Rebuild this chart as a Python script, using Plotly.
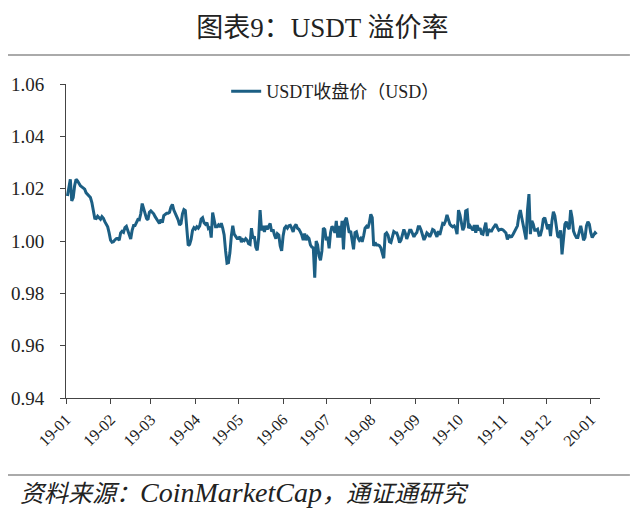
import pandas as pd
import plotly.graph_objects as go

# USDT daily close (USD), starting 2019-01-02
seg1 = [1.0172, 1.0204, 1.0236, 1.0153, 1.0166, 1.0211, 1.0236, 1.0230, 1.0217, 1.0211,
        1.0207, 1.0204, 1.0198, 1.0184, 1.0179, 1.0172, 1.0166, 1.0147, 1.0109, 1.0087,
        1.0086, 1.0095, 1.0089, 1.0083, 1.0093, 1.0087, 1.0074, 1.0061, 1.0054, 1.0031,
        1.0003, 0.9995, 0.9997, 1.0004, 1.0009, 1.0010, 1.0003, 1.0031, 1.0037, 1.0033,
        1.0051, 1.0056, 1.0041, 1.0028, 1.0008, 1.0041, 1.0059, 1.0059, 1.0069, 1.0082,
        1.0081, 1.0104, 1.0143, 1.0121, 1.0107, 1.0086, 1.0081, 1.0110, 1.0115, 1.0109,
        1.0104, 1.0093, 1.0083, 1.0072, 1.0067, 1.0082, 1.0070, 1.0097, 1.0102, 1.0106,
        1.0106, 1.0110, 1.0130, 1.0140, 1.0118, 1.0105, 1.0098, 1.0081, 1.0061, 1.0067,
        1.0104, 1.0120, 1.0116, 1.0032, 0.9983, 0.9987, 1.0006, 1.0040, 1.0051, 1.0046,
        1.0054, 1.0049, 1.0058, 1.0084, 1.0089]
seg2 = [1.0070, 1.0064, 1.0070, 1.0049, 1.0054, 1.0013, 1.0109, 1.0077, 1.0054, 1.0054,
        1.0061, 1.0054, 1.0068, 1.0049, 1.0023, 0.9962, 0.9915, 0.9917, 0.9955, 1.0019,
        1.0058, 1.0026, 1.0016, 1.0010, 1.0010, 1.0016, 0.9996, 1.0005, 1.0001, 1.0009,
        1.0003, 0.9990, 0.9987, 1.0049, 1.0009, 1.0018, 0.9977, 0.9964, 1.0013, 1.0118,
        1.0041, 1.0058, 1.0035, 1.0058, 1.0045, 1.0058, 1.0067, 1.0036, 1.0044, 1.0023,
        1.0009, 1.0028, 1.0023, 0.9981, 0.9962, 1.0019, 1.0049, 1.0056, 1.0049, 1.0058,
        1.0060, 1.0049, 1.0035, 1.0056, 1.0063, 1.0049, 1.0045, 1.0035, 1.0023, 1.0003,
        1.0028, 1.0003, 1.0016, 1.0010, 0.9985, 0.9977, 0.9974, 0.9860, 1.0000, 0.9985,
        0.9943, 0.9926, 0.9962, 1.0049, 1.0044, 1.0003, 1.0016, 0.9972, 1.0032, 1.0056,
        1.0049, 1.0031, 1.0077]
seg3 = [1.0013, 1.0058, 1.0013, 1.0077, 0.9968, 1.0077, 1.0089, 1.0051, 1.0032, 1.0038,
        0.9994, 0.9968, 1.0032, 1.0035, 1.0013, 1.0003, 1.0010, 0.9997, 1.0019, 1.0049,
        1.0056, 1.0049, 1.0070, 1.0102, 1.0089, 0.9981, 0.9994, 0.9985, 0.9985, 0.9982,
        0.9974, 0.9949, 0.9934, 1.0026, 1.0031, 1.0022, 0.9997, 0.9994, 1.0013, 1.0036,
        1.0032, 1.0031, 1.0016, 0.9994, 1.0003, 1.0023, 1.0044, 1.0030, 1.0008, 1.0023,
        1.0041, 1.0041, 1.0028, 1.0016, 1.0026, 1.0032, 1.0054, 1.0054, 1.0041, 1.0018,
        1.0004, 1.0016, 1.0031, 1.0026, 1.0016, 1.0028, 1.0044, 1.0041, 1.0028, 1.0016,
        1.0038, 1.0023, 1.0045, 1.0067, 1.0064, 1.0077, 1.0100, 1.0077, 1.0064, 1.0058,
        1.0054, 1.0058, 1.0049, 1.0026, 1.0118, 1.0100, 1.0064, 1.0041, 1.0054, 1.0115,
        1.0118, 1.0049, 1.0058]
seg4 = [1.0051, 1.0041, 1.0061, 1.0032, 1.0061, 1.0041, 1.0049, 1.0028, 1.0026, 1.0049,
        1.0070, 1.0019, 1.0045, 1.0038, 1.0038, 1.0049, 1.0058, 1.0064, 1.0051, 1.0041,
        1.0044, 1.0045, 1.0042, 1.0037, 1.0031, 1.0006, 1.0023, 1.0016, 1.0017, 1.0026,
        1.0038, 1.0051, 1.0058, 1.0096, 1.0118, 1.0089, 1.0058, 1.0026, 1.0006, 1.0118,
        1.0179, 1.0026, 1.0077, 1.0064, 1.0041, 1.0041, 1.0045, 1.0022, 1.0023, 1.0045,
        1.0083, 1.0089, 1.0067, 1.0045, 1.0064, 1.0019, 1.0077, 1.0112, 1.0096, 1.0051,
        1.0019, 1.0013, 1.0041, 0.9949, 1.0013, 1.0064, 1.0074, 1.0054, 1.0045, 1.0118,
        1.0089, 1.0038, 1.0023, 1.0013, 1.0013, 1.0036, 1.0058, 1.0032, 1.0003, 1.0013,
        1.0058, 1.0074, 1.0064, 1.0032, 1.0013, 1.0023, 1.0032, 1.0026]

values = seg1 + seg2 + seg3 + seg4
dates = pd.date_range("2019-01-02", periods=len(values), freq="D")

tick_dates = pd.date_range("2019-01-01", "2020-01-01", freq="MS")
tick_labels = ["19-01", "19-02", "19-03", "19-04", "19-05", "19-06", "19-07",
               "19-08", "19-09", "19-10", "19-11", "19-12", "20-01"]

FONT = "Liberation Serif, Times New Roman, Noto Sans CJK SC, serif"
LINE_COLOR = "#1c5f84"

fig = go.Figure()
fig.add_trace(go.Scatter(
    x=dates, y=values, mode="lines", name="USDT收盘价（USD）",
    line=dict(color=LINE_COLOR, width=3),
))

# the page body has an 8px margin, so the figure is laid out 8px up/left
fig.update_layout(
    width=640, height=518,
    margin=dict(l=58, r=48, t=76, b=128, autoexpand=False),
    paper_bgcolor="white", plot_bgcolor="white",
    font=dict(family=FONT, size=15, color="#222"),
    title=dict(text="图表9：USDT 溢价率", x=0.48, xref="paper", xanchor="center",
               y=1 - 20 / 518, yref="container", yanchor="middle",
               font=dict(family=FONT, size=27, color="#222")),
    showlegend=True,
    legend=dict(x=0.505, xanchor="center", y=1.035, yanchor="top",
                bgcolor="rgba(0,0,0,0)", font=dict(family=FONT, size=18, color="#222")),
    xaxis=dict(
        type="date", range=["2019-01-01", "2020-01-07 10:00"],
        tickvals=list(tick_dates), ticktext=tick_labels, tickangle=-45,
        showgrid=False, showline=True, linecolor="#444", linewidth=1,
        ticks="outside", ticklen=5, tickcolor="#444", automargin=False,
        tickfont=dict(family=FONT, size=16, color="#222"), zeroline=False,
    ),
    yaxis=dict(
        range=[0.94, 1.06], dtick=0.02, tick0=0.94, tickformat=".2f",
        showgrid=False, showline=True, linecolor="#444", linewidth=1,
        ticks="outside", ticklen=5, tickcolor="#444", ticklabelstandoff=12,
        automargin=False,
        tickfont=dict(family=FONT, size=19, color="#222"), zeroline=False,
    ),
    shapes=[
        dict(type="line", xref="paper", yref="paper", x0=-0.123, x1=1.056,
             y0=1.092, y1=1.092, line=dict(color="#aaa", width=2)),
        dict(type="line", xref="paper", yref="paper", x0=-0.123, x1=1.056,
             y0=-0.245, y1=-0.245, line=dict(color="#aaa", width=2)),
    ],
    annotations=[
        dict(text="<i>资料来源：<span style='font-size:28px'>CoinMarketCap</span>，通证通研究</i>",
             xref="paper", yref="paper",
             x=-0.09, y=-0.30, xanchor="left", yanchor="middle", showarrow=False,
             font=dict(family=FONT, size=24, color="#222")),
    ],
)

fig.write_html("out.html")
